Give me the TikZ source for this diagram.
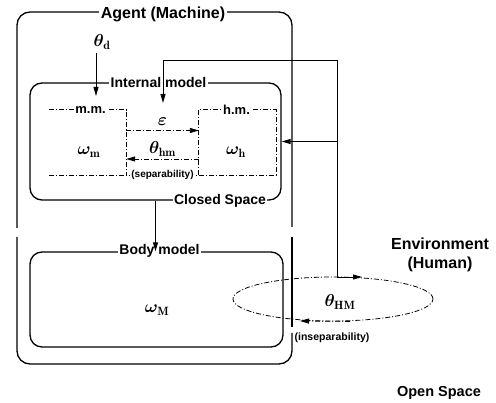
\documentclass[tikz,border=0pt]{standalone}
\usepackage{fontspec}
\setsansfont{Liberation Sans}
\usetikzlibrary{arrows.meta,shapes.geometric}

\begin{document}
\begin{tikzpicture}[x=1pt,y=-1pt,font=\sffamily\bfseries,
  box/.style={draw,line width=1.3pt,rounded corners=12pt,inner sep=0},
  part/.style={inner sep=0},
  sub/.style={line width=.8pt,dash pattern=on 5pt off 2pt on 1pt off 2pt},
  lab/.style={fill=white,inner sep=1.5pt},
  edge/.style={-{Triangle[length=9pt,width=5pt]},line width=.9pt},
  var/.style={font=\LARGE\boldmath}]
  \useasboundingbox (0,0) rectangle (496,403);

  % agent, open on both sides
  \begin{scope}[line width=1.3pt,rounded corners=13pt]
    \draw (17,228) |- (292,12) -- (292,227);
    \draw (292,237) -- (292,327);
    \draw (17,237) |- (292,364) -- (292,333);
  \end{scope}
  \node[lab,font=\fontsize{16}{18}\sffamily\bfseries] (agent) at (163,14) {Agent (Machine)};

  \node[box,minimum width=251,minimum height=117] (im) at (155.5,141.5) {};
  \node[lab,font=\fontsize{14}{16}\sffamily\bfseries] at ([xshift=3pt]im.north) {Internal model};
  \node[lab,font=\fontsize{14}{16}\sffamily\bfseries,anchor=east] at ([xshift=-14pt]im.south east) {Closed Space};

  \node[box,minimum width=253,minimum height=95] (bm) at (156.5,299.5) {};
  \node[lab,font=\fontsize{14}{16}\sffamily\bfseries] at ([xshift=3pt]bm.north) {Body model};
  \node[var] (wM) at (157,310) {$\omega_{\mathrm{M}}$};

  % mental and human models
  \node[part,minimum width=77,minimum height=65] (mm) at (87.5,142.5) {};
  \node[part,minimum width=77,minimum height=65] (hm) at (237.5,142.5) {};
  \draw[sub] (mm.north west) -- (mm.north east) -- (mm.south east);
  \draw[sub] (hm.south west) -- (hm.north west) -- (hm.north east) -- (hm.south east);
  \draw[sub] (mm.south west) -- (hm.south east);
  \node[lab,font=\fontsize{13}{15}\sffamily\bfseries] at ([xshift=3pt]mm.north) {m.m.};
  \node[lab,font=\fontsize{13}{15}\sffamily\bfseries] at ([xshift=-1pt]hm.north) {h.m.};
  \node[var] (wm) at (89,152) {$\omega_{\mathrm{m}}$};
  \node[var] (wh) at (236,152) {$\omega_{\mathrm{h}}$};
  \node[lab,font=\fontsize{10}{12}\sffamily\bfseries] at (162.5,175) {(separability)};

  \draw[sub,edge] ([yshift=12pt]mm.east) -- node[above=1pt,var] {$\varepsilon$} ([yshift=12pt]hm.east -| hm.west);
  \draw[sub,edge] ([yshift=-16.5pt]hm.west) -- node[above=-1pt,var] {$\theta_{\mathrm{hm}}$} ([yshift=-16.5pt]mm.east);

  \node[var] (thd) at (102,42) {$\theta_{\mathrm{d}}$};
  \coordinate (din) at (96,96);
  \draw[edge] (thd.south -| din) -- (din);

  % loop to the environment
  \node[draw,ellipse,sub,minimum width=200,minimum height=44] (hmloop) at (333,299) {};
  \node[var] (thHM) at (340,302) {$\theta_{\mathrm{HM}}$};
  \node[font=\fontsize{10.5}{12}\sffamily\bfseries] at (332,338) {(inseparability)};
  \coordinate (fb) at (337,60);
  \coordinate (epsin) at (163,103);
  \coordinate (envin) at (362,277);
  \draw[edge] (fb) -| (epsin);
  \draw[edge] (fb) |- (envin);
  \draw[edge] (fb |- im.east) -- (im.east);
  \draw[edge,sub] ([xshift=17pt]hmloop.south) -- (300,321);
  \draw[edge] (im.south) -- (im.south |- bm.north);

  \node[align=center,font=\fontsize{16}{19}\sffamily\bfseries] (env) at (440,255) {Environment\\(Human)};
  \node[font=\fontsize{14.5}{17}\sffamily\bfseries] (open) at (439,393) {Open Space};
\end{tikzpicture}
\end{document}
